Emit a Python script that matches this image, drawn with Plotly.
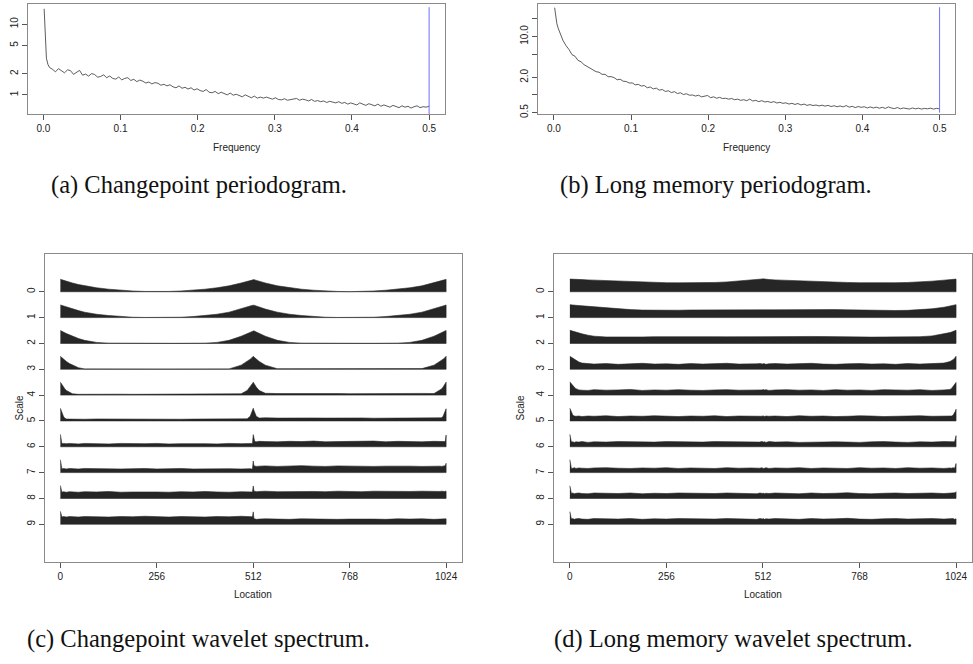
import plotly.graph_objects as go

W, H = 973, 664

# ---------------- periodogram data ----------------
FREQ = [1/1024, 2/1024, 3/1024, 4/1024, 6/1024, 8/1024] + [k/256 for k in range(3, 129)]

PGRAM_A = [16.5, 9.5, 4.8, 3.3, 2.7, 2.45,
    2.30, 2.12, 2.35, 2.18, 2.05, 2.26, 2.20, 1.95, 2.10, 2.22,
    1.90, 1.97, 1.84, 2.00, 1.94, 1.78, 1.82, 1.92, 1.75, 1.85,
    1.71, 1.67, 1.79, 1.63, 1.71, 1.75, 1.60, 1.66, 1.54, 1.62,
    1.56, 1.47, 1.52, 1.43, 1.49, 1.46, 1.37, 1.41, 1.34, 1.39,
    1.30, 1.26, 1.34, 1.24, 1.28, 1.21, 1.26, 1.17, 1.22, 1.15,
    1.12, 1.19, 1.09, 1.07, 1.12, 1.04, 1.09, 1.03, 1.00, 1.06,
    0.99, 1.02, 0.97, 0.94, 1.00, 0.95, 0.91, 0.96, 0.90, 0.93,
    0.90, 0.93, 0.89, 0.87, 0.91, 0.86, 0.85, 0.88, 0.84, 0.86,
    0.86, 0.89, 0.84, 0.87, 0.85, 0.82, 0.86, 0.81, 0.83, 0.80,
    0.82, 0.78, 0.81, 0.79, 0.77, 0.80, 0.76, 0.78, 0.74, 0.77,
    0.75, 0.72, 0.77, 0.73, 0.71, 0.75, 0.72, 0.70, 0.74, 0.69,
    0.72, 0.70, 0.67, 0.71, 0.68, 0.66, 0.70, 0.67, 0.69, 0.65,
    0.68, 0.70, 0.66, 0.68, 0.67, 0.69]

PGRAM_B = [31.0, 23.0, 19.0, 16.5, 13.5, 11.5,
    8.6, 7.0, 6.0, 4.9, 4.6, 3.9, 3.7, 3.3, 3.1, 2.85,
    2.75, 2.5, 2.45, 2.25, 2.26, 2.05, 2.06, 1.98, 1.82, 1.86,
    1.72, 1.70, 1.60, 1.61, 1.49, 1.52, 1.42, 1.45, 1.33, 1.37,
    1.27, 1.31, 1.21, 1.24, 1.15, 1.18, 1.10, 1.14, 1.06, 1.09,
    1.02, 1.05, 0.99, 1.00, 0.96, 0.99, 0.93, 0.96, 0.98, 0.90,
    0.93, 0.88, 0.91, 0.87, 0.88, 0.85, 0.87, 0.83, 0.85, 0.81,
    0.83, 0.80, 0.85, 0.79, 0.81, 0.77, 0.80, 0.76, 0.775, 0.745,
    0.77, 0.73, 0.75, 0.72, 0.735, 0.70, 0.72, 0.69, 0.715, 0.675,
    0.70, 0.665, 0.685, 0.66, 0.675, 0.65, 0.67, 0.645, 0.665, 0.635,
    0.655, 0.63, 0.65, 0.625, 0.66, 0.62, 0.64, 0.61, 0.635, 0.615,
    0.63, 0.60, 0.625, 0.60, 0.62, 0.595, 0.615, 0.59, 0.625, 0.60,
    0.585, 0.61, 0.58, 0.60, 0.59, 0.575, 0.60, 0.58, 0.595, 0.575,
    0.59, 0.58, 0.595, 0.575, 0.59, 0.58]

BLUE_A = [0.53, 17.4]
BLUE_B = [0.5, 31.6]
NYQ = 0.5

FREQ_TICKS = [0, 0.1, 0.2, 0.3, 0.4, 0.5]
FREQ_LABELS = ["0.0", "0.1", "0.2", "0.3", "0.4", "0.5"]
A_YTICKS = [1, 2, 5, 10]
A_YLABELS = ["1", "2", "5", "10"]
B_YTICKS = [0.5, 1, 2, 5, 10, 20]
B_YLABELS = ["0.5", "", "2.0", "", "10.0", ""]

# ---------------- wavelet spectrum data ----------------
LOC = [0, 2, 4, 8, 12, 16, 24, 32, 48, 64, 96, 128, 160, 192, 224, 256,
       288, 320, 352, 384, 416, 448, 480, 496, 504, 508, 510, 512, 514, 516,
       520, 528, 544, 576, 608, 640, 672, 704, 736, 768, 800, 832, 864, 896,
       928, 960, 992, 1008, 1012, 1016, 1020, 1022, 1024]
SCALES = list(range(10))
LOC_TICKS = [0, 256, 512, 768, 1024]

C0 = [.48,.47,.46,.44,.42,.40,.37,.34,.28,.23,.155,.10,.06,.03,.012,.004,
      .012,.03,.06,.10,.155,.23,.34, .40,.44,.46,.47, .48, .47,.46,.44,.40,.34,
      .23,.155,.10,.06,.03,.012,.004, .012,.03,.06,.10,.155,.23,.34,
      .40,.42,.44,.46,.47,.48]
C1 = [.49,.48,.47,.45,.43,.41,.37,.33,.27,.21,.13,.08,.04,.015,.005,.003,
      .005,.015,.04,.08,.13,.21,.33, .41,.45,.47,.48, .49, .48,.47,.45,.41,.33,
      .21,.13,.08,.04,.015,.005,.003, .005,.015,.04,.08,.13,.21,.33,
      .41,.43,.45,.47,.48,.49]
C2 = [.50,.49,.47,.44,.41,.38,.33,.28,.19,.12,.04,.01,.004,.003,.003,.003,
      .003,.003,.004,.01,.04,.12,.28, .38,.44,.47,.49, .50, .49,.47,.44,.38,.28,
      .12,.04,.01,.004,.003,.003,.003, .003,.003,.004,.01,.04,.12,.28,
      .38,.41,.44,.47,.49,.50]
C3 = [.50,.47,.44,.39,.34,.30,.22,.16,.06,.015,.01,.01,.01,.01,.01,.01,
      .01,.01,.01,.01,.01,.015,.16, .30,.39,.44,.47, .50, .47,.44,.39,.30,.16,
      .02,.02,.02,.025,.02,.02,.02, .02,.025,.02,.02,.02,.025,.16,
      .30,.34,.39,.44,.47,.50]
C4 = [.50,.45,.40,.31,.24,.18,.10,.05,.03,.035,.03,.03,.035,.03,.03,.035,
      .03,.03,.035,.03,.03,.035,.05, .18,.31,.40,.45, .50, .45,.40,.31,.18,.07,
      .06,.065,.055,.06,.065,.06,.055, .06,.065,.06,.055,.06,.065,.06,
      .18,.24,.31,.40,.45,.50]
C5 = [.49,.40,.32,.18,.10,.075,.07,.075,.07,.065,.075,.07,.065,.075,.07,.07,
      .075,.065,.07,.075,.07,.065,.075, .08,.18,.32,.40, .49, .40,.32,.18,.11,.12,
      .11,.12,.105,.115,.11,.12,.11, .115,.105,.12,.11,.115,.11,.12,
      .11,.12,.18,.32,.40,.47]
C6 = [.48,.13,.12,.13,.11,.12,.13,.12,.11,.13,.12,.11,.13,.12,.12,.13,
      .11,.12,.13,.12,.11,.13,.12, .12,.13,.12,.13, .47, .21,.20,.19,.21,.20,
      .19,.21,.20,.22,.19,.20,.21, .20,.22,.19,.21,.20,.19,.21,
      .20,.19,.21,.20,.22,.45]
C7 = [.50,.15,.14,.16,.15,.14,.16,.15,.14,.16,.15,.16,.14,.15,.16,.14,
      .15,.16,.14,.15,.16,.15,.14, .16,.15,.14,.16, .45, .25,.26,.24,.25,.26,
      .24,.25,.27,.25,.24,.26,.25, .26,.24,.25,.26,.25,.24,.26,
      .25,.24,.26,.25,.27,.36]
C8 = [.50,.25,.24,.26,.25,.24,.26,.25,.24,.26,.25,.27,.24,.25,.26,.25,
      .24,.26,.25,.27,.25,.24,.26, .25,.24,.26,.25, .48, .27,.28,.26,.27,.28,
      .26,.27,.28,.27,.26,.28,.27, .26,.28,.27,.26,.27,.28,.26,
      .27,.28,.26,.27,.28,.28]
C9 = [.50,.29,.28,.30,.29,.28,.30,.29,.28,.30,.29,.28,.30,.29,.31,.29,
      .28,.30,.29,.28,.30,.29,.31, .30,.29,.30,.29, .48, .20,.21,.19,.20,.21,
      .20,.19,.21,.20,.21,.19,.20, .21,.20,.19,.21,.20,.21,.19,
      .20,.21,.20,.19,.21,.21]

D0 = [.49,.49,.488,.485,.482,.48,.475,.47,.46,.45,.43,.41,.39,.37,.36,.35,
      .345,.345,.35,.36,.38,.41,.45, .47,.485,.49,.495, .50, .495,.49,.485,.475,.46,
      .44,.42,.40,.385,.37,.36,.35, .345,.345,.35,.36,.38,.41,.45,
      .47,.475,.48,.485,.49,.49]
D1 = [.50,.50,.495,.49,.48,.475,.465,.455,.435,.415,.38,.34,.31,.29,.28,.28,
      .285,.295,.30,.305,.305,.30,.30, .30,.30,.30,.30, .30, .30,.30,.30,.30,.30,
      .305,.31,.315,.315,.31,.30,.29, .28,.275,.275,.28,.30,.34,.40,
      .44,.455,.47,.485,.49,.50]
D2 = [.51,.50,.49,.47,.45,.43,.40,.37,.32,.28,.25,.245,.26,.25,.26,.265,
      .255,.26,.255,.26,.255,.26,.265, .26,.255,.26,.26, .26, .255,.26,.26,.255,.255,
      .26,.265,.27,.265,.255,.25,.245, .245,.25,.245,.25,.26,.29,.36,
      .42,.44,.46,.49,.50,.51]
D3 = [.50,.48,.46,.42,.38,.34,.28,.24,.21,.20,.22,.19,.21,.23,.20,.21,
      .19,.22,.20,.21,.23,.20,.19, .21,.22,.20,.21, .20, .22,.21,.19,.21,.22,
      .20,.21,.23,.20,.19,.21,.22, .20,.21,.19,.22,.20,.21,.24,
      .30,.33,.37,.43,.46,.50]
D4 = [.51,.47,.43,.36,.30,.25,.20,.19,.18,.21,.19,.20,.22,.18,.20,.19,
      .21,.19,.18,.20,.21,.19,.20, .18,.21,.19,.20, .22, .19,.20,.21,.18,.20,
      .21,.19,.20,.18,.21,.19,.20, .18,.21,.20,.19,.21,.18,.20,
      .22,.26,.32,.40,.45,.49]
D5 = [.49,.40,.32,.22,.19,.18,.19,.17,.19,.18,.20,.17,.19,.18,.20,.18,
      .17,.19,.18,.20,.17,.19,.18, .19,.17,.19,.18, .20, .18,.17,.19,.18,.19,
      .17,.20,.18,.19,.17,.18,.20, .19,.17,.18,.19,.20,.18,.19,
      .17,.19,.22,.30,.37,.45]
D6 = [.48,.20,.18,.19,.17,.19,.18,.20,.17,.19,.18,.20,.19,.17,.18,.20,
      .19,.17,.18,.20,.19,.18,.17, .19,.18,.20,.18, .19, .18,.19,.17,.20,.18,
      .19,.17,.18,.20,.19,.18,.17, .19,.20,.18,.17,.19,.18,.20,
      .18,.19,.18,.19,.30,.43]
D7 = [.50,.18,.16,.17,.19,.16,.18,.17,.16,.18,.19,.17,.16,.18,.17,.19,
      .16,.18,.17,.16,.19,.17,.18, .16,.17,.19,.17, .18, .16,.17,.19,.16,.18,
      .17,.19,.16,.18,.17,.16,.19, .17,.18,.16,.19,.17,.18,.16,
      .18,.17,.19,.17,.24,.35]
D8 = [.49,.20,.19,.21,.18,.20,.21,.19,.18,.21,.20,.19,.21,.18,.20,.19,
      .21,.20,.18,.19,.21,.20,.19, .18,.21,.19,.20, .19, .21,.18,.20,.19,.21,
      .20,.18,.21,.19,.20,.22,.19, .18,.20,.21,.19,.20,.21,.19,
      .20,.21,.19,.20,.22,.26]
D9 = [.49,.21,.20,.22,.19,.21,.22,.20,.19,.22,.21,.20,.22,.19,.21,.20,
      .22,.21,.19,.20,.22,.21,.20, .19,.22,.20,.21, .20, .22,.19,.21,.20,.22,
      .21,.19,.22,.20,.21,.23,.20, .19,.21,.22,.20,.21,.22,.20,
      .21,.20,.22,.19,.21,.21]

C_LEVELS = [C0, C1, C2, C3, C4, C5, C6, C7, C8, C9]
D_LEVELS = [D0, D1, D2, D3, D4, D5, D6, D7, D8, D9]

# ---------------- layout helpers ----------------
def px_x(a, b):
    return [a / W, b / W]

def px_y(top, bottom):
    return [1 - bottom / H, 1 - top / H]

TICKFONT = dict(family="Liberation Sans, Arial, sans-serif", size=10, color="#222")
BOX = dict(showline=True, mirror=True, linecolor="#8a8a8a", linewidth=1,
           ticks="outside", ticklen=5, tickcolor="#555", tickwidth=1,
           showgrid=False, zeroline=False, tickfont=TICKFONT)

fig = go.Figure()

# periodogram (a)
fig.add_trace(go.Scatter(x=FREQ, y=PGRAM_A, mode="lines", line=dict(color="#333", width=0.8),
                         xaxis="x", yaxis="y", hoverinfo="skip"))
fig.add_trace(go.Scatter(x=[NYQ, NYQ], y=BLUE_A, mode="lines", line=dict(color="#7070ff", width=1),
                         xaxis="x", yaxis="y", hoverinfo="skip"))
# periodogram (b)
fig.add_trace(go.Scatter(x=FREQ, y=PGRAM_B, mode="lines", line=dict(color="#333", width=0.8),
                         xaxis="x2", yaxis="y2", hoverinfo="skip"))
fig.add_trace(go.Scatter(x=[NYQ, NYQ], y=BLUE_B, mode="lines", line=dict(color="#7070ff", width=1),
                         xaxis="x2", yaxis="y2", hoverinfo="skip"))

# wavelet spectra (c) and (d)
for levels, xa, ya in ((C_LEVELS, "x3", "y3"), (D_LEVELS, "x4", "y4")):
    for j, vals in zip(SCALES, levels):
        xs = LOC + LOC[::-1]
        ys = [j - v for v in vals] + [j] * len(LOC)
        fig.add_trace(go.Scatter(x=xs, y=ys, mode="lines", fill="toself",
                                 fillcolor="#262626", line=dict(color="#262626", width=0.6),
                                 xaxis=xa, yaxis=ya, hoverinfo="skip"))

fig.update_layout(
    width=W, height=H, margin=dict(l=0, r=0, t=0, b=0),
    paper_bgcolor="white", plot_bgcolor="white", showlegend=False,
    xaxis=dict(domain=px_x(28, 445), anchor="y", range=[-0.02, 0.52],
               tickvals=FREQ_TICKS, ticktext=FREQ_LABELS, **BOX),
    yaxis=dict(domain=px_y(4, 115), anchor="x", type="log", range=[-0.275, 1.286],
               tickvals=A_YTICKS, ticktext=A_YLABELS, tickangle=-90, **BOX),
    xaxis2=dict(domain=px_x(539, 956), anchor="y2", range=[-0.02, 0.52],
                tickvals=FREQ_TICKS, ticktext=FREQ_LABELS, **BOX),
    yaxis2=dict(domain=px_y(4, 115), anchor="x2", type="log", range=[-0.33, 1.555],
                tickvals=B_YTICKS, ticktext=B_YLABELS, tickangle=-90, **BOX),
    xaxis3=dict(domain=px_x(45, 462), anchor="y3", range=[-40.96, 1064.96],
                tickvals=LOC_TICKS, **BOX),
    yaxis3=dict(domain=px_y(256, 565), anchor="x3", range=[10.445, -1.444],
                tickvals=SCALES, tickangle=-90, **BOX),
    xaxis4=dict(domain=px_x(555, 972.5), anchor="y4", range=[-40.96, 1064.96],
                tickvals=LOC_TICKS, **BOX),
    yaxis4=dict(domain=px_y(256, 565), anchor="x4", range=[10.445, -1.444],
                tickvals=SCALES, tickangle=-90, **BOX),
)

LABELFONT = dict(family="Liberation Sans, Arial, sans-serif", size=10, color="#222")
CAPFONT = dict(family="Liberation Serif, Times New Roman, serif", size=24.5, color="#111")

def ann(text, x, y, font, angle=0, xanchor="center"):
    fig.add_annotation(text=text, x=x / W, y=1 - y / H, xref="paper", yref="paper",
                       showarrow=False, font=font, textangle=angle,
                       xanchor=xanchor, yanchor="middle")

ann("Frequency", 236.5, 148, LABELFONT)
ann("Frequency", 747.5, 148, LABELFONT)
ann("Location", 253.5, 598, LABELFONT)
ann("Location", 764, 598, LABELFONT)
ann("Scale", 20, 410, LABELFONT, angle=-90)
ann("Scale", 521.5, 410, LABELFONT, angle=-90)

ann("(a) Changepoint periodogram.", 199, 186, CAPFONT)
ann("(b) Long memory periodogram.", 716.5, 186, CAPFONT)
ann("(c) Changepoint wavelet spectrum.", 199, 643, CAPFONT)
ann("(d) Long memory wavelet spectrum.", 553, 643, CAPFONT, xanchor="left")

fig.write_html("out.html")
